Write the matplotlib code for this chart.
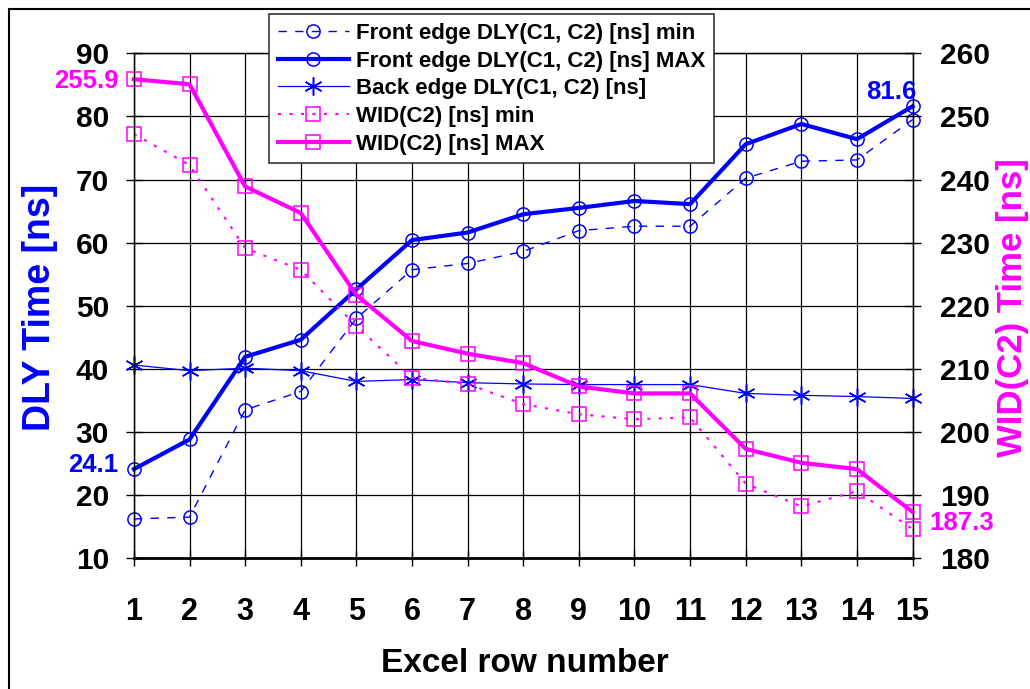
import numpy as np
import matplotlib.pyplot as plt
from matplotlib.patches import Rectangle

plt.rcParams['font.family'] = ['Liberation Sans', 'DejaVu Sans']
plt.rcParams['font.weight'] = 'bold'

# datos
rows = np.arange(1, 16)
front_min = [16.2, 16.5, 33.5, 36.4, 48.0, 55.7, 56.7, 58.6, 61.9, 62.6, 62.6, 70.2, 72.9, 73.1, 79.5]
front_max = [24.1, 28.8, 41.9, 44.6, 52.6, 60.4, 61.6, 64.5, 65.5, 66.6, 66.1, 75.6, 78.8, 76.4, 81.6]
back_edge = [40.6, 39.7, 40.1, 39.7, 38.0, 38.3, 37.8, 37.6, 37.5, 37.5, 37.5, 36.1, 35.8, 35.6, 35.3]
wid_min = [247.2, 242.3, 229.1, 225.7, 216.8, 208.6, 207.6, 204.4, 202.8, 202.0, 202.3, 191.8, 188.2, 190.6, 184.6]
wid_max = [255.9, 255.1, 238.9, 234.7, 221.7, 214.4, 212.4, 210.9, 207.2, 206.1, 206.1, 197.3, 195.1, 194.1, 187.3]

blue = '#0000ff'
mag = '#ff00ff'

fig = plt.figure(figsize=(10.3, 6.89), dpi=100)
ax = fig.add_axes([0.130, 0.190, 0.756, 0.7326])
ax2 = ax.twinx()

ax.plot(rows, front_min, color=blue, lw=1, linestyle=(0, (6, 6)), marker='o', markersize=9.5,
        markerfacecolor='none', markeredgewidth=1.1, clip_on=False, label="Front edge DLY(C1, C2) [ns] min")
ax.plot(rows, front_max, color=blue, lw=3, marker='o', markersize=9.5,
        markerfacecolor='none', markeredgewidth=1.1, clip_on=False, label="Front edge DLY(C1, C2) [ns] MAX")
ax.plot(rows, back_edge, color=blue, lw=0.9, marker=(6, 2, 0), markersize=13,
        markeredgewidth=1.1, clip_on=False, label="Back edge DLY(C1, C2) [ns]")
ax2.plot(rows, wid_min, color=mag, lw=1.5, linestyle=(0, (1.5, 4)), marker='s', markersize=10,
         markerfacecolor='none', markeredgewidth=1.1, clip_on=False, label="WID(C2) [ns] min")
ax2.plot(rows, wid_max, color=mag, lw=3, marker='s', markersize=10,
         markerfacecolor='none', markeredgewidth=1.1, clip_on=False, label="WID(C2) [ns] MAX")

ax.set_xlim(1, 15)
ax.set_ylim(10, 90)
ax2.set_ylim(180, 260)
ax.set_xticks(rows)
ax.set_yticks(np.arange(10, 91, 10))
ax2.set_yticks(np.arange(180, 261, 10))
ax.grid(True, color='black', lw=0.9)

ax.tick_params(axis='y', direction='inout', length=12, width=1, labelsize=21.5, pad=12)
ax.tick_params(axis='x', direction='inout', length=12, width=1, labelsize=22, pad=22)
ax2.tick_params(axis='y', direction='inout', length=12, width=1, labelsize=21.5, pad=14)
ax.spines['bottom'].set_linewidth(2)
for sp in ['left', 'right', 'top']:
    ax.spines[sp].set_linewidth(1)

ax.set_xlabel("Excel row number", fontsize=24, fontweight='bold', va='center')
ax.xaxis.set_label_coords(0.502, -0.208)
ax.set_ylabel("DLY Time [ns]", fontsize=27, fontweight='bold', color=blue, va='center')
ax.yaxis.set_label_coords(-0.121, 0.497)
ax2.set_ylabel("WID(C2) Time [ns]", fontsize=25, fontweight='bold', color=mag, va='center', rotation=90)
ax2.yaxis.set_label_coords(1.128, 0.497)

# etiquetas de valores extremos
ax.annotate(f"{front_max[0]}", (rows[0], front_max[0]), xytext=(-11, 3), textcoords='offset points',
            ha='right', va='center', fontsize=18.5, fontweight='bold', color=blue, annotation_clip=False)
ax.annotate(f"{front_max[-1]}", (rows[-1], front_max[-1]), xytext=(3, 10), textcoords='offset points',
            ha='right', va='center', fontsize=18.5, fontweight='bold', color=blue, annotation_clip=False)
ax2.annotate(f"{wid_max[0]}", (rows[0], wid_max[0]), xytext=(-11, -1), textcoords='offset points',
             ha='right', va='center', fontsize=18.5, fontweight='bold', color=mag, annotation_clip=False)
ax2.annotate(f"{wid_max[-1]}", (rows[-1], wid_max[-1]), xytext=(12, -8), textcoords='offset points',
             ha='left', va='center', fontsize=18.5, fontweight='bold', color=mag, annotation_clip=False)

h1, l1 = ax.get_legend_handles_labels()
h2, l2 = ax2.get_legend_handles_labels()
leg = fig.legend(h1 + h2, l1 + l2, loc='upper left', bbox_to_anchor=(0.2612, 0.9797),
                 fontsize=16, fancybox=False, framealpha=1, edgecolor='#333333',
                 handlelength=3.2, handletextpad=0.3, labelspacing=0.3, borderpad=0.4,
                 borderaxespad=0)
leg.get_frame().set_linewidth(1.2)

fig.add_artist(Rectangle((9 / 1030, -0.1), 2, 1.1 - 9 / 689, fill=False, lw=1.5,
                         edgecolor='black', transform=fig.transFigure))

plt.savefig("out.png", dpi=100)
